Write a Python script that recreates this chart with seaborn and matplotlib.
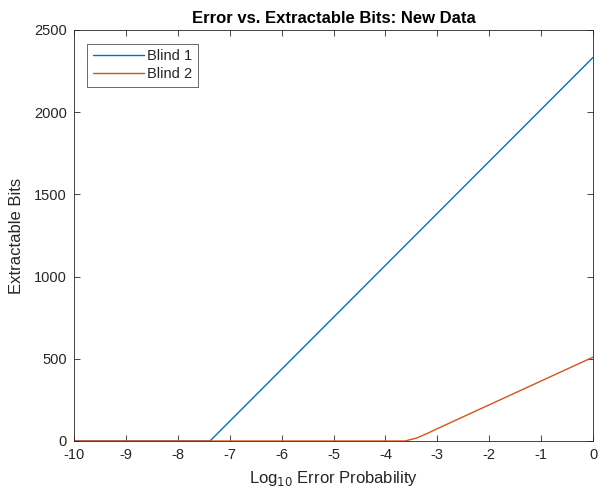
import numpy as np
import pandas as pd
import matplotlib
matplotlib.use("Agg")
import matplotlib.pyplot as plt
import seaborn as sns

# Data
blind1_x = [-10, -7.38, 0]
blind1_y = [0, 0, 2333]
blind2_x = [-10, -3.62, -3.4, -3.2, -3.0, -2.0, -1.0, 0]
blind2_y = [0, 0, 18, 45, 75, 220, 365, 510]
series_names = ["Blind 1", "Blind 2"]
xticks = list(range(-10, 1))
yticks = [0, 500, 1000, 1500, 2000, 2500]

df = pd.concat([
    pd.DataFrame({"x": blind1_x, "y": blind1_y, "series": series_names[0]}),
    pd.DataFrame({"x": blind2_x, "y": blind2_y, "series": series_names[1]}),
])

sns.set_style("white")
plt.rcParams['font.family'] = ['Liberation Sans', 'DejaVu Sans']

fig = plt.figure(figsize=(5.99, 4.95), dpi=100)
ax = fig.add_axes([74/599, 1 - 441/495, (593-74)/599, (441-30)/495])

sns.lineplot(data=df, x="x", y="y", hue="series", sort=False,
             palette=["#0072BD", "#D95319"], linewidth=1.0, ax=ax,
             estimator=None)

ax.set_xlim(-10, 0)
ax.set_ylim(0, 2500)
ax.set_xticks(xticks)
ax.set_yticks(yticks)
ax.set_xticklabels([str(t) for t in xticks])
ax.set_yticklabels([str(t) for t in yticks])
ax.tick_params(direction="in", length=4, width=0.6, colors="#262626",
               labelsize=10.5, top=True, right=True, bottom=True, left=True,
               pad=5)
for s in ax.spines.values():
    s.set_visible(True)
    s.set_color("#262626")
    s.set_linewidth(0.6)

ax.set_xlabel(r"Log$_{10}$ Error Probability", fontsize=12, color="#262626",
              labelpad=5)
ax.set_ylabel("Extractable Bits", fontsize=12, color="#262626", labelpad=7)
ax.set_title("Error vs. Extractable Bits: New Data", fontsize=12,
             fontweight="bold", color="black", pad=5)

leg = ax.legend(loc="upper left", bbox_to_anchor=(0.025, 0.967),
                frameon=True, fancybox=False, fontsize=10.5,
                handlelength=3.5, borderpad=0.4, labelspacing=0.25,
                handletextpad=0.25, borderaxespad=0)
leg.get_frame().set_edgecolor("#262626")
leg.get_frame().set_linewidth(0.6)
leg.set_title(None)

fig.savefig("out.png", dpi=100)
